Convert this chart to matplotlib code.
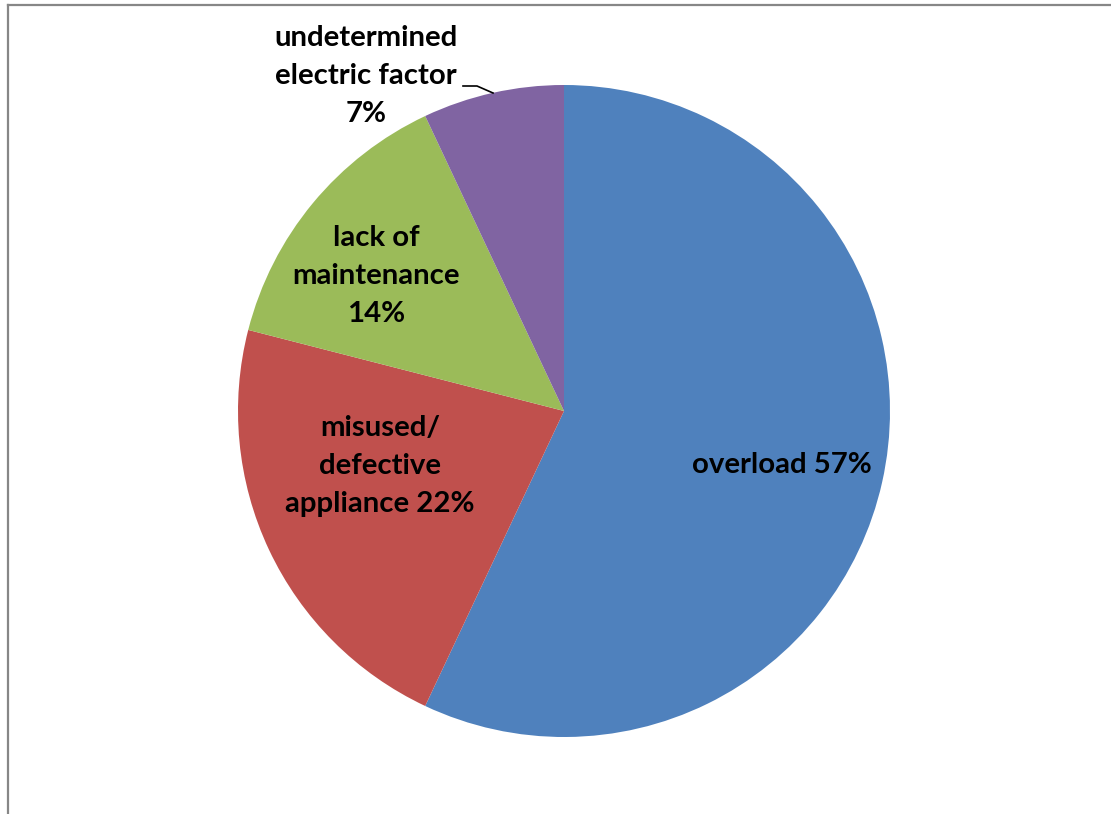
import matplotlib
matplotlib.use("Agg")
import matplotlib.pyplot as plt
from matplotlib.lines import Line2D

# Causes of electrical fires (share of incidents, %)
categories = ["overload", "misused/\ndefective\nappliance", "lack of\nmaintenance",
              "undetermined\nelectric factor"]
shares = [57, 22, 14, 7]
colors = ["#4F81BD", "#C0504D", "#9BBB59", "#8064A2"]
label_texts = ["overload 57%", "misused/\ndefective\nappliance 22%",
               "lack of\nmaintenance\n14%", "undetermined\nelectric factor\n7%"]

W, H = 1111, 814
fig = plt.figure(figsize=(W / 100, H / 100), dpi=100)
ax = fig.add_axes([0, 0, 1, 1])

cx, cy, r = 564, H - 411, 326
wedges, _ = ax.pie(shares, colors=colors, startangle=90, counterclock=False,
                   center=(cx, cy), radius=r, frame=True,
                   wedgeprops=dict(linewidth=0))
ax.set_xlim(0, W)
ax.set_ylim(0, H)
ax.set_aspect("equal")
ax.axis("off")

font = dict(family=["Lato", "DejaVu Sans"], fontweight="bold", fontsize=21.2,
            color="black", ha="center", va="center", linespacing=1.55)
label_pos = [(782, 465), (380, 466), (376, 276), (366, 76)]
for txt, (x, y) in zip(label_texts, label_pos):
    ax.text(x, H - y, txt, **font)

# leader line for the small slice
ax.add_line(Line2D([463, 477, 493], [H - 86, H - 86, H - 93], color="black", lw=1.2))

# chart area border (left and top edges)
fig.add_artist(Line2D([7.5 / W, 7.5 / W], [0, 1 - 5 / H], color="#878787", lw=1.6,
                      transform=fig.transFigure))
fig.add_artist(Line2D([7.5 / W, 1], [1 - 5 / H, 1 - 5 / H], color="#878787", lw=1.6,
                      transform=fig.transFigure))

fig.savefig("out.png", dpi=100, facecolor="white")
